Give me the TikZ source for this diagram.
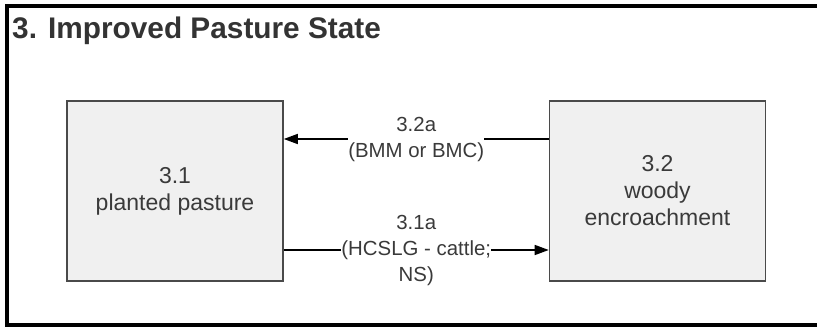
\documentclass[tikz,border=0pt]{standalone}
\usepackage{fontspec}
\setmainfont{Liberation Sans}
\usetikzlibrary{arrows.meta,calc}
\definecolor{boxfill}{HTML}{F0F0F0}
\definecolor{boxline}{HTML}{4A4A4A}
\definecolor{txt}{HTML}{3A3A3A}
\tikzset{
  statebox/.style={draw=boxline, line width=1.6pt, fill=boxfill, minimum width=216pt, minimum height=180pt, inner sep=0pt, text=txt, align=center, font=\fontsize{23}{27}\selectfont},
  translabel/.style={fill=white, inner sep=0pt, text=txt, align=center, font=\fontsize{20.4}{26}\selectfont},
  trans/.style={line width=1.5pt, -{Triangle[length=14pt,width=10pt]}},
  frameline/.style={line width=4pt, black}
}
\begin{document}
\begin{tikzpicture}[x=1pt,y=1pt]
\useasboundingbox (0,0) rectangle (817,-330);
\fill[white] (0,0) rectangle (817,-330);
\draw[frameline] (830,-6) -- (7,-6) -- (7,-325) -- (830,-325);
\node[anchor=base west, inner sep=0pt, text=black!80, font=\fontsize{29.8}{32}\selectfont\bfseries] (title) at (12,-38) {3. Improved Pasture State};
\node[statebox] (s31) at (175,-191) {3.1\\planted pasture};
\node[statebox] (s32) at (657.5,-191) {3.2\\woody\\encroachment};
\coordinate (u1) at ([yshift=52pt]s32.west);
\coordinate (u2) at ([yshift=52pt]s31.east);
\coordinate (l1) at ([yshift=-59pt]s31.east);
\coordinate (l2) at ([yshift=-59pt]s32.west);
\draw[trans] (u1) -- (u2);
\draw[trans] (l1) -- (l2);
\node[translabel] (lab32a) at ($(u1)!0.5!(u2)$) {3.2a\\(BMM or BMC)};
\node[translabel] (lab31a) at ($(l1)!0.5!(l2)$) {3.1a\\(HCSLG - cattle;\\NS)};
\end{tikzpicture}
\end{document}
